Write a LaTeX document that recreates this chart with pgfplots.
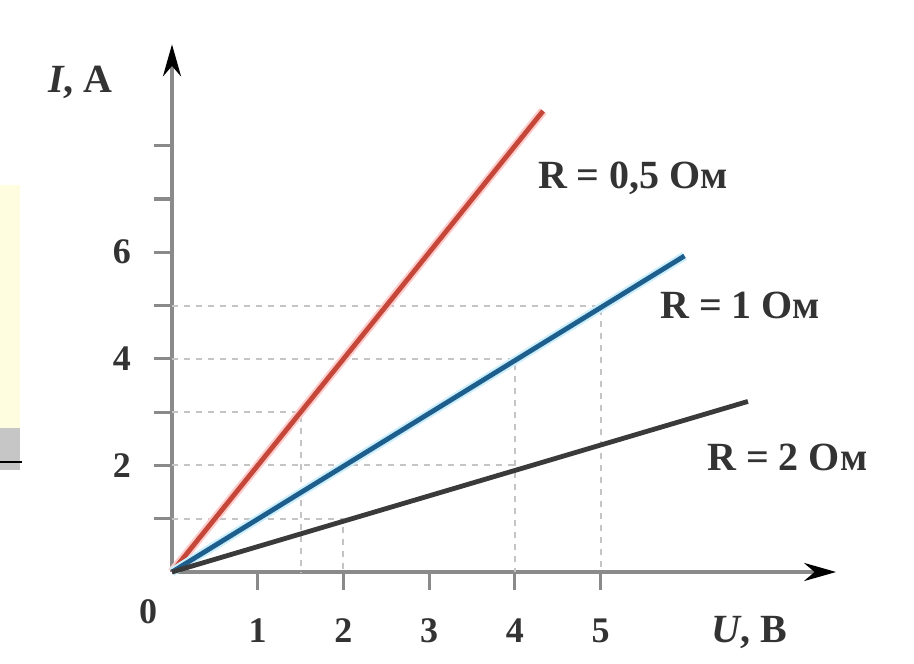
\documentclass[border=0pt]{standalone}
\usepackage{pgfplots}
\pgfplotsset{compat=1.18}
\usepackage{fontspec}
\setmainfont{Liberation Serif}
\usetikzlibrary{arrows.meta}

\definecolor{redline}{HTML}{C4473A}
\definecolor{blueline}{HTML}{1E5E8C}
\definecolor{darkline}{HTML}{3A3A3A}
\definecolor{axisgray}{HTML}{8A8A8A}
\definecolor{dashgray}{HTML}{C4C4C4}

\begin{document}
\begin{tikzpicture}
  % picture frame: 914x663 px at 0.5pt/px, origin of the axis at px (172,572)
  \useasboundingbox (-86pt,-45.5pt) rectangle (371pt,286pt);
  \fill[white] (-86pt,-45.5pt) rectangle (371pt,286pt);
  % slide remnants at the left edge
  \fill[yellow!12] (-86pt,51pt) rectangle (-76pt,193.5pt);
  \fill[gray!45] (-86pt,51pt) rectangle (-76pt,72pt);
  \draw[line width=1pt] (-86pt,55pt) -- (-75pt,55pt);

  \begin{axis}[
      at={(0,0)}, anchor=origin,
      x=42.85pt, y=26.65pt,
      xmin=0, xmax=7.75, ymin=0, ymax=9.9,
      axis lines=left,
      axis line style={axisgray, line width=2pt,
        -{Stealth[length=16pt, width=9pt, color=black]}},
      tick style={axisgray, line width=1.6pt},
      tick align=outside,
      major tick length=9pt,
      xtick={1,2,3,4,5},
      ytick={1,2,3,4,5,6,7,8},
      yticklabels={,2,,4,,6,,},
      /pgf/number format/assume math mode=true,
      ticklabel style={font=\fontsize{18}{18}\selectfont\bfseries, text=black!80},
      xticklabel style={yshift=-11pt},
      yticklabel style={xshift=-8pt},
      clip=false,
    ]
    % dashed guide lines
    \addplot[dashgray, dashed, line width=1pt] coordinates {(0,5) (5,5) (5,0)};
    \addplot[dashgray, dashed, line width=1pt] coordinates {(0,4) (4,4) (4,0)};
    \addplot[dashgray, dashed, line width=1pt] coordinates {(0,3) (1.5,3) (1.5,0)};
    \addplot[dashgray, dashed, line width=1pt] coordinates {(0,2) (4,2)};
    \addplot[dashgray, dashed, line width=1pt] coordinates {(0,1) (2,1) (2,0)};

    % I-U lines
    \addplot[red!20, line width=4.5pt] coordinates {(0,0) (4.33,8.65)};
    \addplot[redline, line width=2.4pt] coordinates {(0,0) (4.33,8.65)};
    \addplot[cyan!20, line width=4.5pt] coordinates {(0,0) (5.98,5.93)};
    \addplot[blueline, line width=2.4pt] coordinates {(0,0) (5.98,5.93)};
    \addplot[darkline, line width=2.4pt] coordinates {(0,0) (6.72,3.2)};

    % labels
    \node[font=\fontsize{20}{20}\selectfont\bfseries, text=black!80] at (axis cs:5.38,7.39) {R = 0,5 Ом};
    \node[font=\fontsize{20}{20}\selectfont\bfseries, text=black!80] at (axis cs:6.63,5.0) {R = 1 Ом};
    \node[font=\fontsize{20}{20}\selectfont\bfseries, text=black!80] at (axis cs:7.18,2.14) {R = 2 Ом};
    \node[font=\fontsize{20}{20}\selectfont\bfseries, text=black!80] at (axis cs:-1.07,9.19) {\textit{I}, А};
    \node[font=\fontsize{20}{20}\selectfont\bfseries, text=black!80] at (axis cs:6.74,-1.13) {\textit{U}, В};
    \node[font=\fontsize{18}{18}\selectfont\bfseries, text=black!80] at (axis cs:-0.28,-0.75) {0};
  \end{axis}
\end{tikzpicture}
\end{document}
